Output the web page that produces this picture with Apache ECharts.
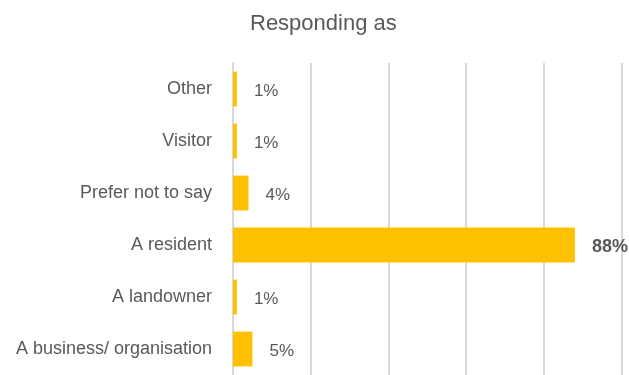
<!DOCTYPE html>
<html>
<head>
<meta charset="utf-8">
<style>
  html, body { margin: 0; padding: 0; background: #ffffff; }
  #chart { width: 629px; height: 375px; }
</style>
<script src="https://cdn.jsdelivr.net/npm/echarts@6/dist/echarts.min.js"></script>
</head>
<body>
<div id="chart"></div>
<script>
// Respondent types, top to bottom
const categories = ['Other', 'Visitor', 'Prefer not to say', 'A resident', 'A landowner', 'A business/ organisation'];
// Share of respondents, percent
const shares = [1, 1, 4, 88, 1, 5];
// Share that gets a bold label
const highlight = 'A resident';

const textColor = '#595959';
const gridColor = '#d9d9d9';
const barColor = '#FFC000';
const font = '"Liberation Sans", Arial, sans-serif';

const chart = echarts.init(document.getElementById('chart'), null, { renderer: 'canvas' });

chart.setOption({
  animation: false,
  title: {
    text: 'Responding as',
    left: 250,
    top: 13,
    padding: 0,
    textStyle: { color: textColor, fontFamily: font, fontSize: 22, fontWeight: 'normal' }
  },
  grid: { left: 233, right: 7.5, top: 63, bottom: -2, containLabel: false },
  xAxis: {
    type: 'value',
    min: 0,
    max: 100,
    interval: 20,
    axisLabel: { show: false },
    axisLine: { show: false },
    axisTick: { show: false },
    splitLine: { show: true, lineStyle: { color: gridColor, width: 2 } }
  },
  yAxis: {
    type: 'category',
    inverse: true,
    data: categories,
    axisLine: { show: true, lineStyle: { color: gridColor, width: 2 } },
    axisTick: { show: false },
    axisLabel: { color: textColor, fontFamily: font, fontSize: 18, margin: 21 }
  },
  series: [{
    type: 'bar',
    data: shares.map((v, i) => ({
      value: v,
      label: categories[i] === highlight ? { fontWeight: 'bold', fontSize: 18 } : undefined
    })),
    barCategoryGap: '33%',
    itemStyle: { color: barColor },
    label: {
      show: true,
      position: 'right',
      distance: 17,
      offset: [0, 2],
      formatter: p => p.value + '%',
      color: textColor,
      fontFamily: font,
      fontSize: 17
    }
  }]
});
</script>
</body>
</html>
